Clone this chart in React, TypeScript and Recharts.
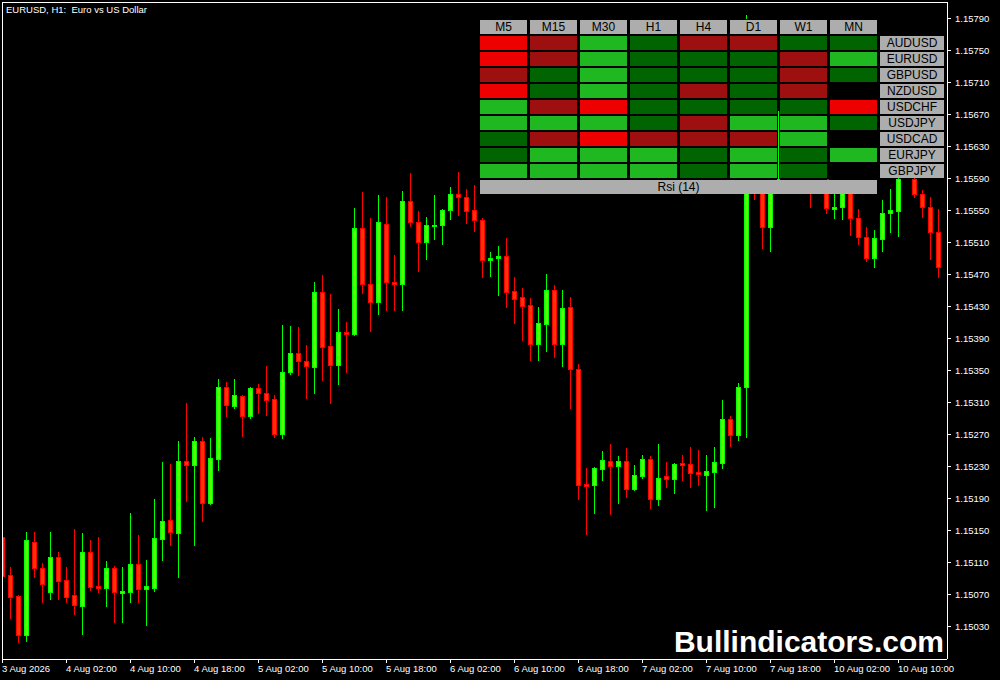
import React from 'react';
import { ComposedChart, Bar, XAxis, YAxis, ReferenceLine } from 'recharts';

// ---------- Candle data (EURUSD H1) ----------
const opens = [
  1.15142, 1.15095, 1.15069, 1.15020, 1.15136, 1.15104, 1.15074, 1.15117, 1.15089, 1.15070,
  1.15056, 1.15124, 1.15081, 1.15079, 1.15104, 1.15072, 1.15074, 1.15109, 1.15077, 1.15079,
  1.15140, 1.15164, 1.15147, 1.15237, 1.15232, 1.15262, 1.15185, 1.15240, 1.15329, 1.15306,
  1.15318, 1.15293, 1.15328, 1.15322, 1.15315, 1.15271, 1.15348, 1.15372, 1.15362, 1.15354,
  1.15448, 1.15381, 1.15357, 1.15398, 1.15396, 1.15528, 1.15458, 1.15436, 1.15533, 1.15461,
  1.15458, 1.15562, 1.15535, 1.15510, 1.15530, 1.15532, 1.15550, 1.15570, 1.15567, 1.15550,
  1.15538, 1.15488, 1.15490, 1.15493, 1.15449, 1.15442, 1.15432, 1.15383, 1.15408, 1.15451,
  1.15383, 1.15429, 1.15352, 1.15208, 1.15207, 1.15227, 1.15237, 1.15231, 1.15237, 1.15202,
  1.15218, 1.15240, 1.15190, 1.15218, 1.15215, 1.15235, 1.15233, 1.15223, 1.15220, 1.15223,
  1.15235, 1.15290, 1.15270, 1.15329, 1.15585, 1.15583, 1.15529, 1.15575, 1.15643, 1.15617,
  1.15603, 1.15584, 1.15595, 1.15589, 1.15552, 1.15554, 1.15580, 1.15540, 1.15517, 1.15490,
  1.15514, 1.15547, 1.15549, 1.15602, 1.15589, 1.15570, 1.15554, 1.15523,
];
const highs = [
  1.15151, 1.15105, 1.15070, 1.15149, 1.15149, 1.15110, 1.15149, 1.15124, 1.15105, 1.15152,
  1.15147, 1.15139, 1.15142, 1.15112, 1.15106, 1.15105, 1.15172, 1.15145, 1.15114, 1.15190,
  1.15236, 1.15233, 1.15262, 1.15310, 1.15267, 1.15267, 1.15266, 1.15339, 1.15336, 1.15339,
  1.15320, 1.15329, 1.15333, 1.15356, 1.15320, 1.15407, 1.15406, 1.15404, 1.15382, 1.15461,
  1.15469, 1.15446, 1.15427, 1.15411, 1.15553, 1.15573, 1.15540, 1.15569, 1.15567, 1.15494,
  1.15574, 1.15597, 1.15549, 1.15542, 1.15569, 1.15552, 1.15579, 1.15598, 1.15577, 1.15582,
  1.15540, 1.15498, 1.15505, 1.15515, 1.15467, 1.15453, 1.15441, 1.15429, 1.15471, 1.15457,
  1.15451, 1.15442, 1.15358, 1.15228, 1.15230, 1.15250, 1.15258, 1.15243, 1.15253, 1.15232,
  1.15245, 1.15243, 1.15258, 1.15236, 1.15235, 1.15245, 1.15255, 1.15251, 1.15245, 1.15255,
  1.15313, 1.15293, 1.15334, 1.15794, 1.15587, 1.15585, 1.15585, 1.15674, 1.15645, 1.15625,
  1.15605, 1.15587, 1.15605, 1.15612, 1.15575, 1.15582, 1.15584, 1.15552, 1.15529, 1.15525,
  1.15563, 1.15577, 1.15593, 1.15605, 1.15592, 1.15575, 1.15567, 1.15552,
];
const lows = [
  1.15086, 1.15041, 1.15011, 1.15013, 1.15092, 1.15061, 1.15065, 1.15065, 1.15061, 1.15046,
  1.15021, 1.15076, 1.15074, 1.15056, 1.15036, 1.15036, 1.15061, 1.15061, 1.15032, 1.15075,
  1.15114, 1.15132, 1.15092, 1.15187, 1.15132, 1.15162, 1.15183, 1.15226, 1.15293, 1.15303,
  1.15268, 1.15291, 1.15297, 1.15295, 1.15267, 1.15266, 1.15346, 1.15344, 1.15316, 1.15322,
  1.15338, 1.15310, 1.15333, 1.15348, 1.15394, 1.15447, 1.15399, 1.15421, 1.15426, 1.15426,
  1.15426, 1.15530, 1.15474, 1.15489, 1.15514, 1.15508, 1.15539, 1.15544, 1.15534, 1.15524,
  1.15467, 1.15468, 1.15444, 1.15429, 1.15409, 1.15388, 1.15363, 1.15363, 1.15374, 1.15367,
  1.15356, 1.15303, 1.15190, 1.15146, 1.15172, 1.15213, 1.15171, 1.15185, 1.15192, 1.15201,
  1.15216, 1.15178, 1.15182, 1.15205, 1.15197, 1.15213, 1.15205, 1.15207, 1.15176, 1.15180,
  1.15228, 1.15256, 1.15263, 1.15267, 1.15564, 1.15503, 1.15499, 1.15573, 1.15632, 1.15613,
  1.15593, 1.15554, 1.15592, 1.15547, 1.15540, 1.15539, 1.15519, 1.15508, 1.15487, 1.15479,
  1.15499, 1.15523, 1.15518, 1.15593, 1.15567, 1.15542, 1.15489, 1.15467,
];
const closes = [
  1.15094, 1.15067, 1.15020, 1.15139, 1.15104, 1.15084, 1.15117, 1.15087, 1.15067, 1.15057,
  1.15124, 1.15080, 1.15079, 1.15104, 1.15074, 1.15075, 1.15109, 1.15077, 1.15081, 1.15141,
  1.15162, 1.15149, 1.15237, 1.15232, 1.15262, 1.15185, 1.15241, 1.15329, 1.15307, 1.15320,
  1.15293, 1.15328, 1.15322, 1.15313, 1.15271, 1.15348, 1.15372, 1.15362, 1.15356, 1.15448,
  1.15379, 1.15357, 1.15398, 1.15396, 1.15528, 1.15458, 1.15436, 1.15535, 1.15461, 1.15458,
  1.15562, 1.15535, 1.15510, 1.15532, 1.15532, 1.15550, 1.15570, 1.15567, 1.15549, 1.15538,
  1.15488, 1.15490, 1.15493, 1.15448, 1.15439, 1.15431, 1.15383, 1.15409, 1.15451, 1.15383,
  1.15428, 1.15352, 1.15207, 1.15206, 1.15228, 1.15238, 1.15231, 1.15237, 1.15202, 1.15220,
  1.15240, 1.15190, 1.15216, 1.15215, 1.15233, 1.15232, 1.15222, 1.15221, 1.15225, 1.15236,
  1.15290, 1.15270, 1.15329, 1.15763, 1.15575, 1.15529, 1.15583, 1.15589, 1.15635, 1.15623,
  1.15597, 1.15573, 1.15602, 1.15553, 1.15554, 1.15578, 1.15540, 1.15517, 1.15490, 1.15515,
  1.15547, 1.15550, 1.15589, 1.15598, 1.15570, 1.15554, 1.15523, 1.15479,
];

// ---------- Axis ticks ----------
const xTickIdx = [0, 8, 16, 24, 32, 40, 48, 56, 64, 72, 80, 88, 96, 104, 112];
const xTickLabels = [
  '3 Aug 2026', '4 Aug 02:00', '4 Aug 10:00', '4 Aug 18:00', '5 Aug 02:00',
  '5 Aug 10:00', '5 Aug 18:00', '6 Aug 02:00', '6 Aug 10:00', '6 Aug 18:00',
  '7 Aug 02:00', '7 Aug 10:00', '7 Aug 18:00', '10 Aug 02:00', '10 Aug 10:00',
];
const yTicks = [
  1.15030, 1.15070, 1.15110, 1.15150, 1.15190, 1.15230, 1.15270, 1.15310, 1.15350, 1.15390,
  1.15430, 1.15470, 1.15510, 1.15550, 1.15590, 1.15630, 1.15670, 1.15710, 1.15750, 1.15790,
];
const yDomain = [1.1499, 1.1581];
const xDomain = [-0.0625, 118.0625];

// ---------- RSI dashboard ----------
const timeframes = ['M5', 'M15', 'M30', 'H1', 'H4', 'D1', 'W1', 'MN'];
const symbols = ['AUDUSD', 'EURUSD', 'GBPUSD', 'NZDUSD', 'USDCHF', 'USDJPY', 'USDCAD', 'EURJPY', 'GBPJPY'];
// R = strong down, r = down, g = up, G = strong up, '' = no signal
const rsiStates = [
  ['R', 'r', 'G', 'g', 'r', 'r', 'g', 'g'],
  ['R', 'r', 'G', 'g', 'g', 'g', 'r', 'G'],
  ['r', 'g', 'G', 'g', 'g', 'g', 'r', 'g'],
  ['R', 'g', 'G', 'g', 'r', 'g', 'r', ''],
  ['G', 'r', 'R', 'g', 'g', 'g', 'g', 'R'],
  ['G', 'G', 'G', 'g', 'r', 'G', 'G', 'g'],
  ['g', 'r', 'R', 'r', 'r', 'r', 'G', ''],
  ['g', 'G', 'G', 'G', 'g', 'G', 'g', 'G'],
  ['G', 'G', 'G', 'G', 'g', 'G', 'g', ''],
];
const stateColors: Record<string, string> = {
  R: '#EE0000',
  r: '#9E1010',
  g: '#006400',
  G: '#20B820',
  '': '#000000',
};
const panelTitle = 'Rsi (14)';
const chartTitle = 'EURUSD, H1:  Euro vs US Dollar';
const watermark = 'Bullindicators.com';

const data = opens.map((o, i) => ({
  idx: i,
  o,
  h: highs[i],
  l: lows[i],
  c: closes[i],
  range: [lows[i], highs[i]],
}));

const FONT = '"Liberation Sans", Arial, sans-serif';
const BULL_LINE = '#00FF00';
const BULL_FILL = '#5CFF00';
const BEAR_LINE = '#FF0000';
const BEAR_FILL = '#FF3300';

const Candle = (props: any) => {
  const { x, y, width, height, payload } = props;
  if (x == null || y == null || !payload) return null;
  const { o, h, l, c } = payload;
  const span = h - l;
  const py = (v: number) => (span > 0 ? y + ((h - v) / span) * height : y);
  const cx = Math.round(x + width / 2 - 0.5);
  const bull = c >= o;
  const line = bull ? BULL_LINE : BEAR_LINE;
  const fill = bull ? BULL_FILL : BEAR_FILL;
  const top = Math.round(py(Math.max(o, c)));
  const bot = Math.round(py(Math.min(o, c)));
  const bodyH = Math.max(1, bot - top);
  return (
    <g>
      <line
        x1={cx + 0.5}
        x2={cx + 0.5}
        y1={Math.round(py(h))}
        y2={Math.round(py(l)) + 1}
        stroke={line}
        strokeWidth={1}
      />
      <rect x={cx - 1.5} y={top + 0.5} width={4} height={bodyH} fill={fill} stroke={line} strokeWidth={1} />
    </g>
  );
};

const XTick = (props: any) => {
  const { x, y, payload } = props;
  const i = xTickIdx.indexOf(payload.value);
  return (
    <text x={x - 0.5} y={y + 9} fill="#FFFFFF" fontSize={9.5} fontFamily={FONT} textAnchor="start">
      {xTickLabels[i]}
    </text>
  );
};

const YTick = (props: any) => {
  const { x, y, payload } = props;
  return (
    <text x={x} y={y + 3.5} fill="#FFFFFF" fontSize={9.5} fontFamily={FONT} textAnchor="start">
      {Number(payload.value).toFixed(5)}
    </text>
  );
};

const Overlay = () => {
  const tableX = 480;
  const colPitch = 50;
  const cellW = 47;
  const headerY = 20;
  const rowY0 = 36;
  const rowPitch = 16;
  const cellH = 14;
  const grey = '#ADADAD';
  const rsiY = rowY0 + rowPitch * symbols.length;
  return (
    <svg
      width={1000}
      height={680}
      style={{ position: 'absolute', left: 0, top: 0, pointerEvents: 'none' }}
    >
      <text x={6} y={13} fill="#FFFFFF" fontSize={9.5} fontFamily={FONT} style={{ whiteSpace: 'pre' }}>
        {chartTitle}
      </text>
      {timeframes.map((tf, j) => (
        <g key={tf}>
          <rect x={tableX + j * colPitch} y={headerY - 1} width={cellW} height={cellH + 2} fill="#000000" />
          <rect x={tableX + j * colPitch} y={headerY} width={cellW} height={cellH} fill={grey} />
          <text
            x={tableX + j * colPitch + cellW / 2}
            y={headerY + 11}
            fontSize={12}
            fontFamily={FONT}
            fill="#000000"
            textAnchor="middle"
          >
            {tf}
          </text>
        </g>
      ))}
      {rsiStates.map((row, i) => (
        <g key={'r' + i}>
          {row.map((s, j) => (
            <g key={j}>
              <rect
                x={tableX + j * colPitch}
                y={rowY0 + i * rowPitch - 1}
                width={cellW}
                height={cellH + 3}
                fill="#000000"
              />
              <rect
                x={tableX + j * colPitch}
                y={rowY0 + i * rowPitch}
                width={cellW}
                height={cellH}
                fill={stateColors[s]}
              />
            </g>
          ))}
          <rect x={880} y={rowY0 + i * rowPitch} width={64} height={cellH} fill={grey} />
          <text
            x={912}
            y={rowY0 + i * rowPitch + 11}
            fontSize={12}
            fontFamily={FONT}
            fill="#000000"
            textAnchor="middle"
          >
            {symbols[i]}
          </text>
        </g>
      ))}
      <rect x={tableX} y={rsiY} width={colPitch * 7 + cellW} height={cellH} fill={grey} />
      <text
        x={tableX + (colPitch * 7 + cellW) / 2}
        y={rsiY + 11}
        fontSize={12}
        fontFamily={FONT}
        fill="#000000"
        textAnchor="middle"
      >
        {panelTitle}
      </text>
      <text
        x={944}
        y={652}
        fontSize={30}
        fontWeight="bold"
        fontFamily={FONT}
        fill="#FFFFFF"
        textAnchor="end"
      >
        {watermark}
      </text>
    </svg>
  );
};

export default function App() {
  return (
    <div style={{ position: 'absolute', left: 0, top: 0, width: 1000, height: 680, background: '#000000', overflow: 'hidden' }}>
      <style>{`
        .recharts-cartesian-axis-line, .recharts-cartesian-axis-tick-line, .recharts-reference-line-line { shape-rendering: crispEdges; }
      `}</style>
      <ComposedChart
        width={1000}
        height={680}
        data={data}
        margin={{ top: 2, right: 0, bottom: 0, left: 2 }}
      >
        <XAxis
          type="number"
          dataKey="idx"
          domain={xDomain}
          allowDataOverflow
          ticks={xTickIdx}
          interval={0}
          height={21}
          tickSize={4}
          tickMargin={0}
          axisLine={{ stroke: '#FFFFFF' }}
          tickLine={{ stroke: '#FFFFFF' }}
          tick={<XTick />}
        />
        <YAxis
          type="number"
          orientation="right"
          domain={yDomain}
          allowDataOverflow
          ticks={yTicks}
          interval={0}
          width={53}
          tickSize={4}
          tickMargin={4}
          axisLine={{ stroke: '#FFFFFF' }}
          tickLine={{ stroke: '#FFFFFF' }}
          tick={<YTick />}
        />
        <ReferenceLine y={yDomain[1]} stroke="#FFFFFF" ifOverflow="visible" />
        <ReferenceLine x={xDomain[0]} stroke="#FFFFFF" ifOverflow="visible" />
        <Bar dataKey="range" barSize={5} shape={<Candle />} isAnimationActive={false} />
      </ComposedChart>
      <Overlay />
    </div>
  );
}
